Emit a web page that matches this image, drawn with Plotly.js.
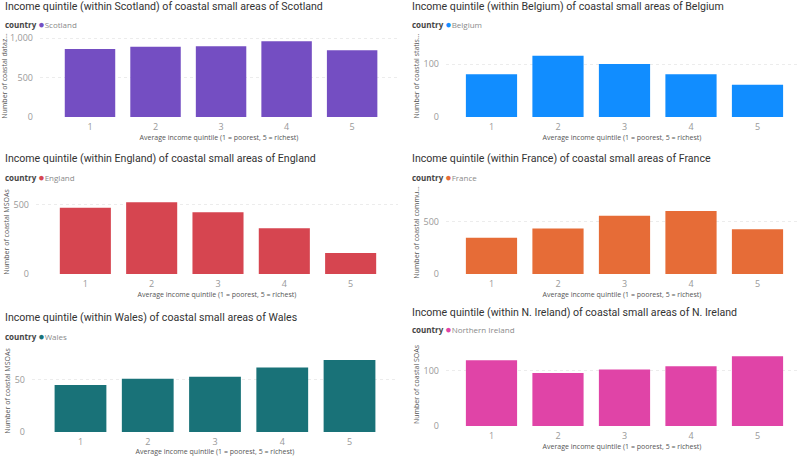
<!DOCTYPE html>
<html>
<head>
<meta charset="utf-8">
<script src="https://cdn.plot.ly/plotly-3.0.1.min.js"></script>
<style>html,body{margin:0;padding:0;background:#fff;}#chart{width:800px;height:456px;}</style>
</head>
<body>
<div id="chart"></div>
<script>
// ---- data ----
const quintiles = [1, 2, 3, 4, 5];
const quintileLabels = ['1', '2', '3', '4', '5'];
const countries = ['Scotland', 'Belgium', 'England', 'France', 'Wales', 'Northern Ireland'];
const scotland = [860, 890, 895, 960, 845];
const belgium = [81, 116, 100, 81, 61];
const england = [480, 520, 447, 332, 152];
const france = [345, 433, 557, 602, 428];
const wales = [45, 51, 53, 62, 69];
const nIreland = [119, 96, 102, 108, 126];
const titles = [
  'Income quintile (within Scotland) of coastal small areas of Scotland',
  'Income quintile (within Belgium) of coastal small areas of Belgium',
  'Income quintile (within England) of coastal small areas of England',
  'Income quintile (within France) of coastal small areas of France',
  'Income quintile (within Wales) of coastal small areas of Wales',
  'Income quintile (within N. Ireland) of coastal small areas of N. Ireland'
];
const yTitles = [
  'Number of coastal dataz…',
  'Number of coastal statis…',
  'Number of coastal MSOAs',
  'Number of coastal commu…',
  'Number of coastal MSOAs',
  'Number of coastal SOAs'
];
const xTitle = 'Average income quintile (1 = poorest, 5 = richest)';
const seriesValues = [scotland, belgium, england, france, wales, nIreland];

// ---- style / layout (pixels) ----
const W = 800, H = 456;
const colors = ['#744EC2', '#118DFF', '#D64550', '#E66C37', '#197278', '#E044A7'];
const panels = [
  {x0: 40, x1: 398, xr: [0.237, 5.70], top: 35, bot: 117, ymax: 1038, dtick: 500, tx: 3, ty: 6, ly: 24},
  {x0: 446, x1: 798, xr: [0.316, 5.609], top: 35, bot: 117, ymax: 155, dtick: 100, tx: 410, ty: 6, ly: 24},
  {x0: 36, x1: 398, xr: [0.256, 5.714], top: 190, bot: 274, ymax: 608, dtick: 500, tx: 3, ty: 159, ly: 177},
  {x0: 446, x1: 798, xr: [0.316, 5.609], top: 191, bot: 274, ymax: 792, dtick: 500, tx: 410, ty: 159, ly: 177},
  {x0: 32, x1: 398, xr: [0.279, 5.721], top: 350, bot: 432, ymax: 78.7, dtick: 50, tx: 3, ty: 317, ly: 336},
  {x0: 446, x1: 798, xr: [0.316, 5.609], top: 343, bot: 426, ymax: 150, dtick: 100, tx: 410, ty: 312, ly: 329}
];
const px = v => v / W;
const py = v => 1 - v / H;

const tickFont = {family: 'Open Sans, Noto Sans, sans-serif', size: 9, color: '#999999'};
const axTitleFont = {family: 'Open Sans, Noto Sans, sans-serif', size: 7, color: '#555'};
const titleFont = {family: 'Roboto, Noto Sans, sans-serif', size: 10.6, color: '#333333'};

const traces = [];
const layout = {
  width: W, height: H,
  margin: {l: 0, r: 0, t: 0, b: 0},
  paper_bgcolor: '#fff', plot_bgcolor: 'rgba(0,0,0,0)',
  showlegend: false,
  bargap: 0.23,
  annotations: []
};

panels.forEach((p, i) => {
  const n = i + 1;
  const sfx = n === 1 ? '' : String(n);
  traces.push({
    type: 'bar',
    x: quintiles,
    y: seriesValues[i],
    name: countries[i],
    marker: {color: colors[i]},
    xaxis: 'x' + sfx,
    yaxis: 'y' + sfx,
    hoverinfo: 'x+y'
  });
  layout['xaxis' + sfx] = {
    domain: [px(p.x0), px(p.x1)],
    anchor: 'y' + sfx,
    range: p.xr,
    tickvals: quintiles,
    ticktext: quintileLabels,
    showgrid: false, zeroline: false, showline: false, ticks: '',
    tickfont: tickFont,
    ticklabelstandoff: 3,
    automargin: false,
    title: {text: xTitle, font: axTitleFont, standoff: 3}
  };
  layout['yaxis' + sfx] = {
    domain: [py(p.bot), py(p.top)],
    anchor: 'x' + sfx,
    range: [0, p.ymax],
    dtick: p.dtick,
    tickformat: ',',
    showgrid: true, gridcolor: '#ececec', griddash: 'dot', gridwidth: 1,
    zeroline: false, showline: false, ticks: '',
    tickfont: tickFont,
    ticklabelstandoff: 6,
    automargin: false,
    title: {text: yTitles[i], font: axTitleFont, standoff: 3}
  };
  layout.annotations.push({
    xref: 'paper', yref: 'paper', x: px(p.tx), y: py(p.ty),
    xanchor: 'left', yanchor: 'middle', showarrow: false,
    text: titles[i], font: titleFont
  });
  layout.annotations.push({
    xref: 'paper', yref: 'paper', x: px(p.tx), y: py(p.ly),
    xanchor: 'left', yanchor: 'middle', showarrow: false,
    text: '<b>country</b> <span style="color:' + colors[i] + ';font-size:10.5px">●</span><span style="color:#8a8a8a">' + countries[i] + '</span>',
    font: {family: 'Open Sans, Noto Sans, sans-serif', size: 8, color: '#444'}
  });
});

Plotly.newPlot('chart', traces, layout, {displayModeBar: false, staticPlot: true});
</script>
</body>
</html>
